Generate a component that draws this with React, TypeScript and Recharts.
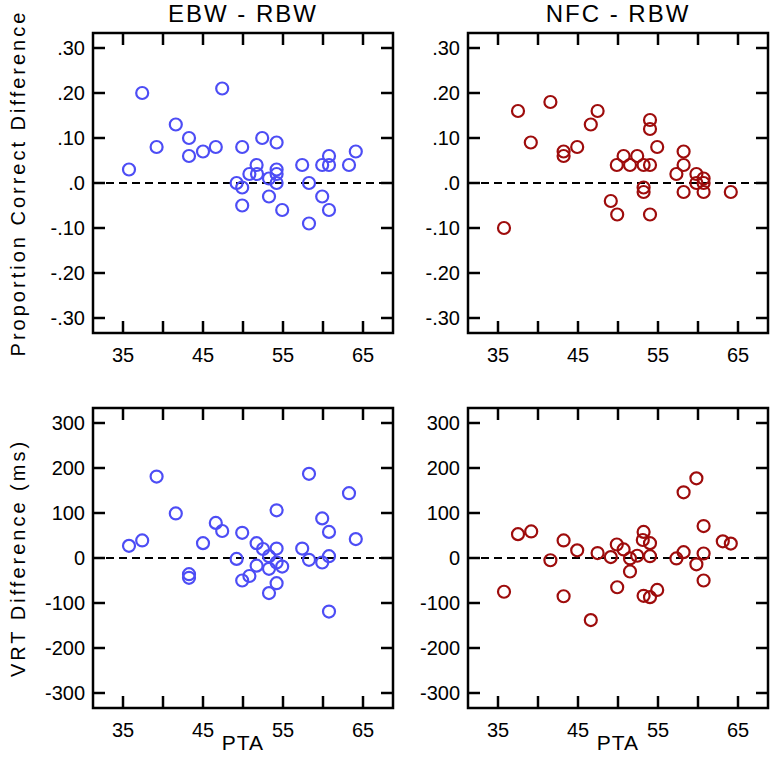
import React from 'react';
import { ScatterChart, Scatter, XAxis, YAxis, ReferenceLine, ReferenceArea } from 'recharts';

const PTA_TICKS = [35, 40, 45, 50, 55, 60, 65];
const PC_TICKS = [-0.3, -0.2, -0.1, 0, 0.1, 0.2, 0.3];
const VRT_TICKS = [-300, -200, -100, 0, 100, 200, 300];

// EBW - RBW, proportion correct difference
const ebwPcPta = [35.75, 37.4, 39.2, 41.6, 43.25, 43.25, 45.0, 46.6, 47.4, 49.2, 49.9, 49.9, 49.9, 50.8, 51.7, 51.75, 52.4, 53.25, 53.25, 54.2, 54.2, 54.2, 54.2, 54.9, 57.4, 58.25, 58.25, 59.9, 59.9, 60.75, 60.75, 60.75, 63.25, 64.1];
const ebwPcDiff = [0.03, 0.2, 0.08, 0.13, 0.1, 0.06, 0.07, 0.08, 0.21, 0.0, 0.08, -0.01, -0.05, 0.02, 0.04, 0.02, 0.1, 0.01, -0.03, 0.09, 0.03, 0.02, 0.0, -0.06, 0.04, 0.0, -0.09, 0.04, -0.03, 0.06, 0.04, -0.06, 0.04, 0.07];

// NFC - RBW, proportion correct difference
const nfcPcPta = [35.75, 37.5, 39.1, 41.55, 43.2, 43.2, 44.9, 46.6, 47.45, 49.1, 49.85, 49.9, 50.7, 51.5, 52.4, 53.2, 53.2, 53.2, 54.0, 54.0, 54.0, 54.0, 54.9, 57.3, 58.2, 58.2, 58.2, 59.8, 59.8, 60.7, 60.7, 60.7, 64.1];
const nfcPcDiff = [-0.1, 0.16, 0.09, 0.18, 0.07, 0.06, 0.08, 0.13, 0.16, -0.04, 0.04, -0.07, 0.06, 0.04, 0.06, 0.04, -0.01, -0.02, 0.14, 0.12, 0.04, -0.07, 0.08, 0.02, 0.07, 0.04, -0.02, 0.02, 0.0, 0.01, 0.0, -0.02, -0.02];

// EBW - RBW, VRT difference (ms)
const ebwVrtPta = [35.75, 37.4, 39.2, 41.6, 43.25, 43.25, 45.0, 46.6, 47.4, 49.2, 49.9, 49.9, 50.8, 51.7, 51.7, 52.5, 53.25, 53.25, 53.25, 54.2, 54.2, 54.2, 54.2, 54.9, 57.4, 58.25, 58.25, 59.9, 59.9, 60.75, 60.75, 60.75, 63.25, 64.1];
const ebwVrtDiff = [27, 39, 181, 99, -36, -44, 33, 78, 60, -2, 56, -50, -40, 33, -17, 20, 4, -24, -78, 106, 21, -10, -56, -19, 21, 187, -4, 88, -10, 58, 4, -119, 144, 42];

// NFC - RBW, VRT difference (ms)
const nfcVrtPta = [35.75, 37.5, 39.15, 41.55, 43.2, 43.2, 44.9, 46.6, 47.45, 49.1, 49.85, 49.9, 50.7, 51.5, 51.5, 52.4, 53.2, 53.1, 53.2, 54.0, 54.0, 54.0, 54.9, 57.3, 58.2, 58.2, 59.8, 59.8, 60.7, 60.7, 60.7, 63.1, 64.1];
const nfcVrtDiff = [-75, 53, 59, -5, 39, -85, 17, -138, 11, 2, 30, -65, 19, -1, -30, 5, 58, 40, -84, 33, 4, -87, -71, -1, 146, 13, 177, -14, 71, 10, -50, 37, 32];

const BLUE = '#4d4df5';
const RED = '#9e0c0c';
const FONT = '"Liberation Sans", Arial, sans-serif';
const PLOT = 300;
const TICK = 12;
const X_DOMAIN: [number, number] = [31.25, 68.75];
const PC_DOMAIN: [number, number] = [-1 / 3, 1 / 3];
const VRT_DOMAIN: [number, number] = [-1000 / 3, 1000 / 3];

const fmtPc = (v: number) => {
  if (Math.abs(v) < 1e-9) return '.0';
  const s = String(Math.round(Math.abs(v) * 100)).padStart(2, '0');
  return (v < 0 ? '-.' : '.') + s;
};
const fmtVrt = (v: number) => String(v);

const XTick = (props: any) => {
  const { x, y, payload } = props;
  const v = payload.value;
  const label = v % 10 === 5 ? String(v) : '';
  return (
    <g>
      <line x1={x} y1={y} x2={x} y2={y - TICK} stroke="#000" strokeWidth={2.5} />
      <line x1={x} y1={y - PLOT} x2={x} y2={y - PLOT + TICK} stroke="#000" strokeWidth={2.5} />
      <text x={x} y={y + 29} textAnchor="middle" fontSize={20} fontFamily={FONT} fill="#000">
        {label}
      </text>
    </g>
  );
};

const YTick = (props: any) => {
  const { x, y, payload, fmt } = props;
  return (
    <g>
      <line x1={x} y1={y} x2={x + TICK} y2={y} stroke="#000" strokeWidth={2.5} />
      <line x1={x + PLOT} y1={y} x2={x + PLOT - TICK} y2={y} stroke="#000" strokeWidth={2.5} />
      <text x={x - 8} y={y} dy="0.36em" textAnchor="end" fontSize={20} fontFamily={FONT} fill="#000">
        {fmt(payload.value)}
      </text>
    </g>
  );
};

const ring = (color: string) => (p: any) => (
  <circle cx={p.cx} cy={p.cy} r={6} fill="none" stroke={color} strokeWidth={2.2} />
);

type PanelProps = {
  pta: number[];
  diff: number[];
  color: string;
  yDomain: [number, number];
  yTicks: number[];
  fmt: (v: number) => string;
  yLabel?: string;
  bottom?: boolean;
  left: number;
  top: number;
};

const Panel = ({ pta, diff, color, yDomain, yTicks, fmt, yLabel, bottom, left, top }: PanelProps) => {
  const data = pta.map((x, i) => ({ pta: x, diff: diff[i] }));
  const height = bottom ? 384 : 375;
  return (
    <div style={{ position: 'absolute', left, top }}>
      <ScatterChart width={395} height={height} margin={{ top: 33, right: 2, bottom: 0, left: 0 }}>
        <XAxis
          type="number"
          dataKey="pta"
          domain={X_DOMAIN}
          ticks={PTA_TICKS}
          interval={0}
          allowDataOverflow
          axisLine={false}
          tickLine={false}
          tickSize={0}
          tickMargin={0}
          height={height - 33 - PLOT}
          tick={<XTick />}
          label={
            bottom
              ? {
                  value: 'PTA',
                  position: 'insideBottom',
                  offset: 9,
                  style: { fontSize: 21, fontFamily: FONT, fill: '#000', letterSpacing: 1 },
                }
              : undefined
          }
        />
        <YAxis
          type="number"
          dataKey="diff"
          domain={yDomain}
          ticks={yTicks}
          interval={0}
          allowDataOverflow
          axisLine={false}
          tickLine={false}
          tickSize={0}
          tickMargin={0}
          width={93}
          tick={<YTick fmt={fmt} />}
          label={
            yLabel
              ? {
                  value: yLabel,
                  angle: -90,
                  position: 'insideLeft',
                  offset: 18,
                  style: { textAnchor: 'middle', fontSize: 20, fontFamily: FONT, fill: '#000', letterSpacing: 3 },
                }
              : undefined
          }
        />
        <ReferenceArea
          x1={X_DOMAIN[0]}
          x2={X_DOMAIN[1]}
          y1={yDomain[0]}
          y2={yDomain[1]}
          fill="none"
          fillOpacity={0}
          stroke="#000"
          strokeWidth={2.5}
        />
        <ReferenceLine y={0} stroke="#000" strokeWidth={2} strokeDasharray="8 5" />
        <Scatter data={data} isAnimationActive={false} shape={ring(color)} />
      </ScatterChart>
    </div>
  );
};

const titleStyle: React.CSSProperties = {
  position: 'absolute',
  top: 0,
  width: PLOT,
  textAlign: 'center',
  fontFamily: FONT,
  fontSize: 24,
  letterSpacing: 2,
  lineHeight: '28px',
  color: '#000',
};

export default function App() {
  return (
    <div style={{ position: 'absolute', left: 0, top: 0, width: 770, height: 759, background: '#fff' }}>
      <div style={{ ...titleStyle, left: 93 }}>EBW - RBW</div>
      <div style={{ ...titleStyle, left: 468 }}>NFC - RBW</div>
      <Panel pta={ebwPcPta} diff={ebwPcDiff} color={BLUE} yDomain={PC_DOMAIN} yTicks={PC_TICKS} fmt={fmtPc}
        yLabel="Proportion Correct Difference" left={0} top={0} />
      <Panel pta={nfcPcPta} diff={nfcPcDiff} color={RED} yDomain={PC_DOMAIN} yTicks={PC_TICKS} fmt={fmtPc}
        left={375} top={0} />
      <Panel pta={ebwVrtPta} diff={ebwVrtDiff} color={BLUE} yDomain={VRT_DOMAIN} yTicks={VRT_TICKS} fmt={fmtVrt}
        yLabel="VRT Difference (ms)" bottom left={0} top={375} />
      <Panel pta={nfcVrtPta} diff={nfcVrtDiff} color={RED} yDomain={VRT_DOMAIN} yTicks={VRT_TICKS} fmt={fmtVrt}
        bottom left={375} top={375} />
    </div>
  );
}
